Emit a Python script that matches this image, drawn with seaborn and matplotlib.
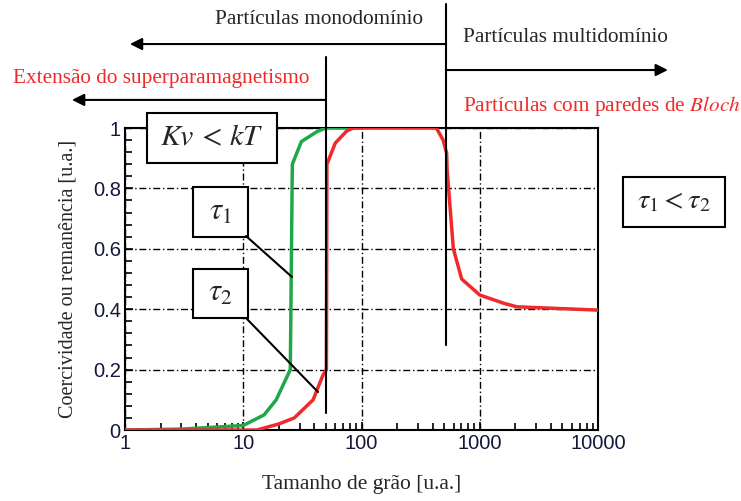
import matplotlib
matplotlib.use("Agg")
import matplotlib.pyplot as plt
import seaborn as sns
from matplotlib.patches import Rectangle
from matplotlib.lines import Line2D
from matplotlib.ticker import MultipleLocator, LogLocator, NullFormatter

# curve data (grain size vs coercivity / remanence)
green_x = [1, 3, 5, 10, 15, 19, 25, 26, 31, 42, 50, 100]
green_y = [0, 0.003, 0.008, 0.015, 0.05, 0.10, 0.20, 0.88, 0.955, 0.988, 1.0, 1.0]

red_x = [1, 13, 20, 27, 39, 47, 50.5, 51, 60, 75, 85, 430, 490, 525, 530, 598, 703, 1000, 1585, 2056, 10000]
red_y = [0, 0, 0.02, 0.04, 0.10, 0.18, 0.20, 0.88, 0.95, 0.99, 1.0, 1.0, 0.96, 0.916, 0.86, 0.60, 0.50, 0.447, 0.42, 0.408, 0.397]

x_ticks = [1, 10, 100, 1000, 10000]
x_labels = ['1', '10', '100', '1000', '10000']
y_ticks = [0, 0.2, 0.4, 0.6, 0.8, 1.0]
y_labels = ['0', '0.2', '0.4', '0.6', '0.8', '1']

GREEN = '#1fa84a'
RED = '#f02a2a'
TICK = '#15183a'

sns.set_style("ticks")
plt.rcParams['font.family'] = ['Liberation Serif', 'DejaVu Serif']
plt.rcParams['mathtext.fontset'] = 'stix'

W, H = 741, 501
fig = plt.figure(figsize=(W / 100, H / 100), dpi=100)


def px(x, y):
    # pixel position (from top-left) -> figure fraction
    return x / W, 1 - y / H


ax = fig.add_axes([125 / W, 1 - 430 / H, (598 - 125) / W, (430 - 128) / H])

sns.lineplot(x=green_x, y=green_y, ax=ax, color=GREEN, lw=2.5, sort=False, estimator=None, zorder=3)
sns.lineplot(x=red_x, y=red_y, ax=ax, color=RED, lw=2.5, sort=False, estimator=None, zorder=4)

ax.set_xscale('log')
ax.set_xlim(1, 10000)
ax.set_ylim(0, 1)
ax.set_xticks(x_ticks)
ax.set_xticklabels(x_labels)
ax.set_yticks(y_ticks)
ax.set_yticklabels(y_labels)
ax.xaxis.set_minor_locator(LogLocator(base=10, subs=range(2, 10)))
ax.xaxis.set_minor_formatter(NullFormatter())
ax.yaxis.set_minor_locator(MultipleLocator(0.04))
ax.tick_params(which='both', direction='in', top=False, right=False, color='black', width=1.2)
ax.tick_params(which='major', length=6, pad=3, labelsize=14.5, labelcolor=TICK)
ax.tick_params(which='minor', length=5)
for lab in ax.get_xticklabels() + ax.get_yticklabels():
    lab.set_fontfamily(['Liberation Sans', 'DejaVu Sans'])

for s in ax.spines.values():
    s.set_color('black')
    s.set_linewidth(1.5)

ax.grid(True, which='major', color='black', lw=1, linestyle=(0, (5, 2, 1, 2)))
ax.set_axisbelow(True)

ax.set_xlabel('Tamanho de grão [u.a.]', fontsize=15.5, labelpad=16)
ax.set_ylabel('Coercividade ou remanência [u.a.]', fontsize=14.5, labelpad=11)

# vertical separators (data x, extending above the axes)
ax.plot([50, 50], [0.056, 1.235], color='black', lw=1.5, clip_on=False, zorder=5)
ax.plot([520, 520], [0.281, 1.41], color='black', lw=1.5, clip_on=False, zorder=5)

# arrows
arrow = dict(arrowstyle='-|>', color='black', lw=1.5, mutation_scale=18, shrinkA=0, shrinkB=0)
ax.annotate('', xy=(1.1, 1.278), xytext=(520, 1.278), arrowprops=arrow, annotation_clip=False)
ax.annotate('', xy=(39000, 1.192), xytext=(520, 1.192), arrowprops=arrow, annotation_clip=False)
ax.annotate('', xy=(0.356, 1.093), xytext=(50, 1.093), arrowprops=arrow, annotation_clip=False)

# region labels
fig.text(*px(319, 19), 'Partículas monodomínio', fontsize=15.3, ha='center', va='center')
fig.text(*px(463, 37), 'Partículas multidomínio', fontsize=15.3, ha='left', va='center')
fig.text(*px(13, 78), 'Extensão do superparamagnetismo', fontsize=15.3, ha='left', va='center', color=RED)
fig.text(*px(463, 106), r'Partículas com paredes de $\mathit{Bloch}$', fontsize=15.3, ha='left',
         va='center', color=RED)


def box(x0, y0, x1, y1, label, size):
    fx0, fy1 = px(x0, y0)
    fx1, fy0 = px(x1, y1)
    fig.add_artist(Rectangle((fx0, fy0), fx1 - fx0, fy1 - fy0, transform=fig.transFigure,
                             facecolor='white', edgecolor='black', lw=1.5, zorder=6))
    fig.text((fx0 + fx1) / 2, (fy0 + fy1) / 2, label, fontsize=size, ha='center', va='center', zorder=7)


box(147, 113, 277, 163, r'$Kv\,<\,kT$', 21.5)
box(193, 187, 248, 237, r'$\tau_1$', 22)
box(193, 269, 248, 318, r'$\tau_2$', 22)
box(623, 177, 725, 227, r'$\tau_1<\tau_2$', 20.5)

# leader lines from the tau boxes to the curves
for (a, b), (c, d) in [((246, 236), (292, 277)), ((246, 318), (318, 392))]:
    fig.add_artist(Line2D([px(a, b)[0], px(c, d)[0]], [px(a, b)[1], px(c, d)[1]],
                          transform=fig.transFigure, color='black', lw=1.5, zorder=6))

fig.savefig('out.png', dpi=100)
